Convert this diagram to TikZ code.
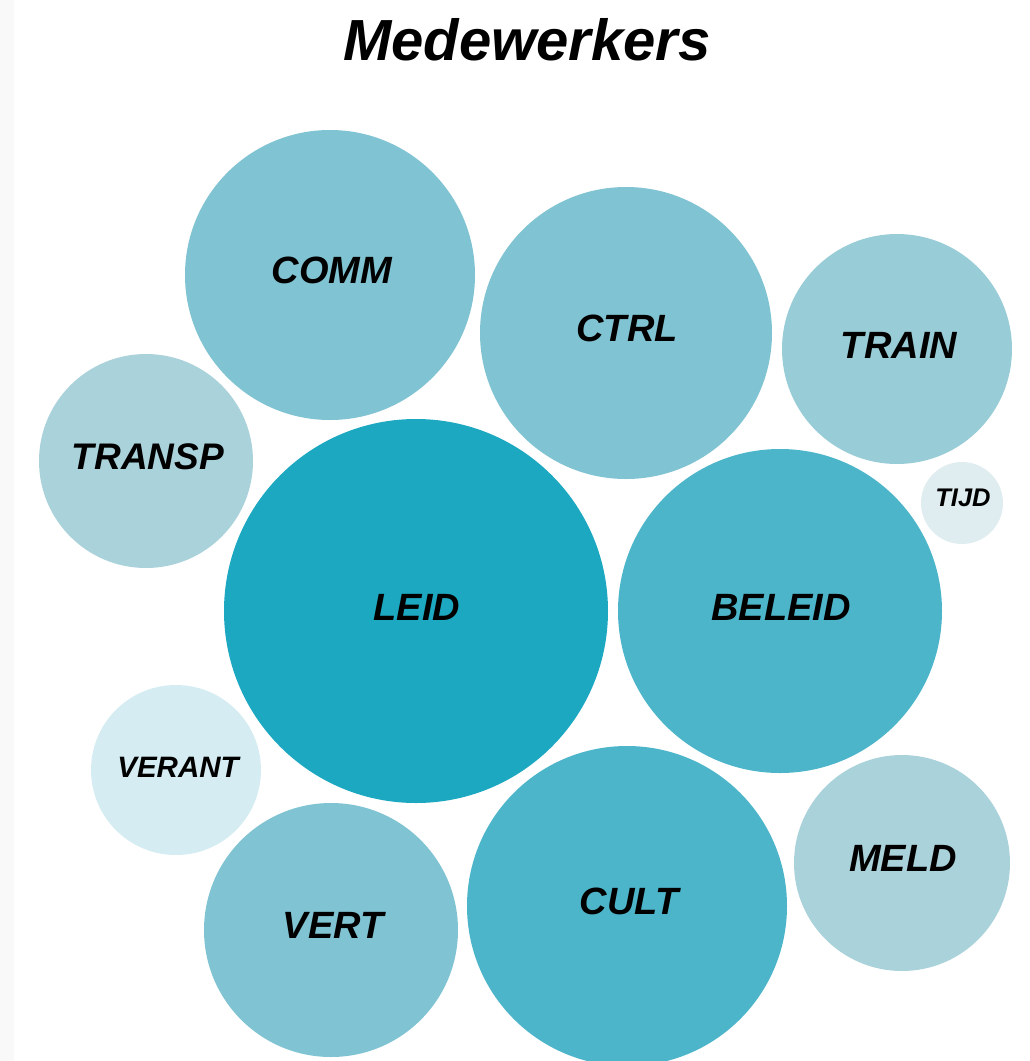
\documentclass[tikz,border=0pt]{standalone}
\usepackage{fontspec}
\setmainfont{Liberation Sans}
\begin{document}
\begin{tikzpicture}[x=1pt,y=-1pt,
  bub/.style={circle,inner sep=0pt,draw=none,font=\bfseries\itshape},
  lbl/.style={font=\fontsize{#1}{#1}\selectfont\bfseries\itshape}]
\definecolor{cA}{HTML}{1CA8C1}
\definecolor{cB}{HTML}{4DB5CA}
\definecolor{cC}{HTML}{80C3D2}
\definecolor{cD}{HTML}{98CCD7}
\definecolor{cE}{HTML}{AAD2DB}
\definecolor{cF}{HTML}{D4ECF2}
\definecolor{cG}{HTML}{E0EDF0}
\definecolor{strip}{HTML}{F9F9F9}
\useasboundingbox (0,0) rectangle (1030,1061);
\fill[strip] (0,0) rectangle (14,1061);
\begin{scope}
\clip (0,0) rectangle (1030,1061);
\node[bub,fill=cC,minimum size=290pt] (comm) at (330,275) {};
\node[bub,fill=cC,minimum size=292pt] (ctrl) at (626,333) {};
\node[bub,fill=cD,minimum size=230pt] (train) at (897,349) {};
\node[bub,fill=cE,minimum size=214pt] (transp) at (146,461) {};
\node[bub,fill=cG,minimum size=82pt] (tijd) at (962,503) {};
\node[bub,fill=cA,minimum size=384pt] (leid) at (416,611) {};
\node[bub,fill=cB,minimum size=324pt] (beleid) at (780,611) {};
\node[bub,fill=cF,minimum size=170pt] (verant) at (176,770) {};
\node[bub,fill=cC,minimum size=254pt] (vert) at (331,930) {};
\node[bub,fill=cB,minimum size=320pt] (cult) at (627,906) {};
\node[bub,fill=cE,minimum size=216pt] (meld) at (902,863) {};
\end{scope}
\node[lbl=38] (tcomm) at (332,270) {COMM};
\node[lbl=38] (tctrl) at (627,328) {CTRL};
\node[lbl=38] (ttrain) at (899,345) {TRAIN};
\node[lbl=37] (ttransp) at (148,457) {TRANSP};
\node[lbl=25.5] (ttijd) at (963,498) {TIJD};
\node[lbl=29.5] (tverant) at (178,767) {VERANT};
\node[lbl=38] (tleid) at (417,607) {LEID};
\node[lbl=38] (tbeleid) at (781,607) {BELEID};
\node[lbl=38] (tvert) at (333,925) {VERT};
\node[lbl=38] (tcult) at (629,901) {CULT};
\node[lbl=38] (tmeld) at (903,858) {MELD};
\node[lbl=58] (title) at (527,40) {Medewerkers};
\end{tikzpicture}
\end{document}
